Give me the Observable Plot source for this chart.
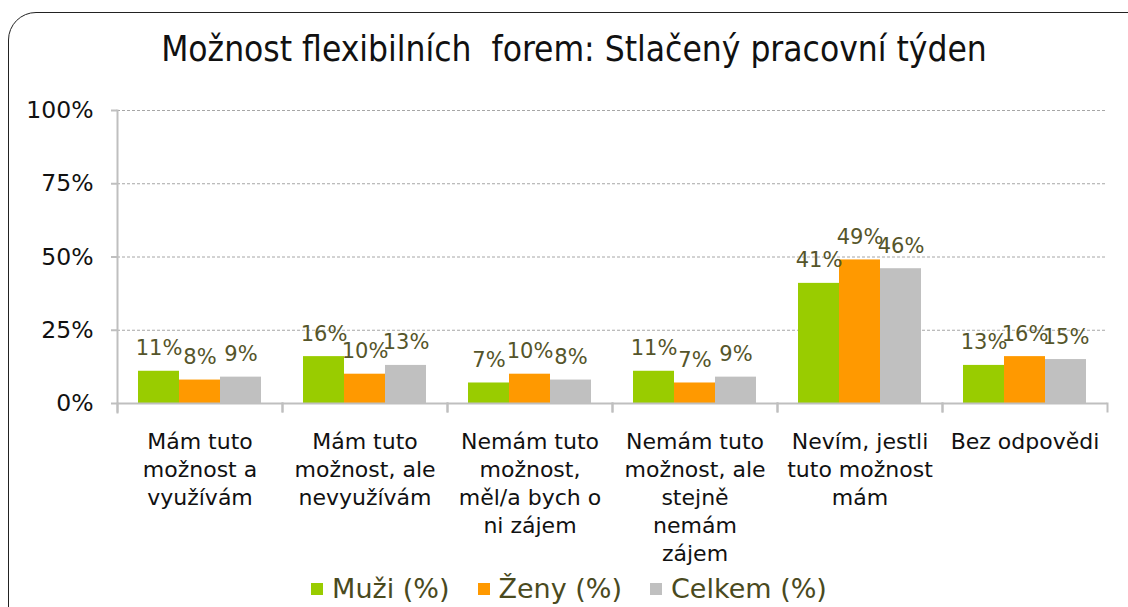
<!DOCTYPE html>
<html><head><meta charset="utf-8">
<script src="https://cdn.jsdelivr.net/npm/d3@7"></script>
<script src="https://cdn.jsdelivr.net/npm/@observablehq/plot@0.6"></script>
<style>
body{margin:0;background:#fff;}
#wrap{position:relative;width:1128px;height:607px;overflow:hidden;font-family:"DejaVu Sans",Verdana,sans-serif;background:#fff;}
#frame{position:absolute;left:8px;top:12px;width:1150px;height:640px;border:1.5px solid #222;border-radius:28px;box-sizing:border-box;}
#title{position:absolute;left:8px;width:1132px;top:29px;text-align:center;font-size:35px;line-height:40px;color:#111;font-family:"DejaVu Sans Condensed","DejaVu Sans",sans-serif;white-space:pre;}
#chart{position:absolute;left:0;top:95px;}
#legend{position:absolute;left:0;width:1138px;top:573px;display:flex;justify-content:center;font-size:27px;line-height:32px;color:#4a4a1e;}
#legend .item{display:flex;align-items:center;margin:0 14px;}
#legend .sw{width:12px;height:12px;margin-right:9px;}
</style>
</head><body>
<div id="wrap">
  <div id="frame"></div>
  <div id="title"></div>
  <div id="chart"></div>
  <div id="legend"></div>
</div>
<script>
const titleText = "Možnost flexibilních  forem: Stlačený pracovní týden";
const categories = [
  "Mám tuto možnost a využívám",
  "Mám tuto možnost, ale nevyužívám",
  "Nemám tuto možnost, měl/a bych o ni zájem",
  "Nemám tuto možnost, ale stejně nemám zájem",
  "Nevím, jestli tuto možnost mám",
  "Bez odpovědi"
];
const categoryLabels = [
  "Mám tuto\nmožnost a\nvyužívám",
  "Mám tuto\nmožnost, ale\nnevyužívám",
  "Nemám tuto\nmožnost,\nměl/a bych o\nni zájem",
  "Nemám tuto\nmožnost, ale\nstejně\nnemám\nzájem",
  "Nevím, jestli\ntuto možnost\nmám",
  "Bez odpovědi"
];
const seriesNames = ["Muži (%)", "Ženy (%)", "Celkem (%)"];
const seriesColors = ["#99cc00", "#ff9900", "#c0c0c0"];
const muzi   = [11, 16, 7, 11, 41, 13];
const zeny   = [8, 10, 10, 7, 49, 16];
const celkem = [9, 13, 8, 9, 46, 15];
const yTicks = [0, 25, 50, 75, 100];

const seriesValues = [muzi, zeny, celkem];
const data = [];
categories.forEach((c, i) => {
  seriesNames.forEach((s, j) => data.push({category: c, series: s, value: seriesValues[j][i]}));
});
const labelOf = new Map(categories.map((c, i) => [c, categoryLabels[i]]));

document.getElementById("title").textContent = titleText;

const plotH = 293;
const chart = Plot.plot({
  width: 1128,
  height: 470,
  marginTop: 15,
  marginLeft: 117,
  marginRight: 21,
  marginBottom: 162,
  style: {fontFamily: "'DejaVu Sans', Verdana, sans-serif", background: "transparent", overflow: "visible"},
  fx: {domain: categories, padding: 0, label: null},
  x: {domain: seriesNames, paddingInner: 0, paddingOuter: 0.5, axis: null},
  y: {domain: [0, 100], label: null},
  color: {domain: seriesNames, range: seriesColors},
  marks: [
    Plot.gridY(yTicks.filter(d => d > 0), {stroke: "#a6a6a6", strokeOpacity: 1, strokeDasharray: "3,2", strokeWidth: 1}),
    Plot.barY(data, {fx: "category", x: "series", y: "value", fill: "series"}),
    Plot.ruleY([0], {stroke: "#bfbfbf", strokeWidth: 2}),
    Plot.frame({anchor: "left", facetAnchor: "left", stroke: "#bfbfbf", strokeWidth: 2, insetBottom: -9}),
    Plot.frame({anchor: "left", stroke: "#bfbfbf", strokeWidth: 2, insetTop: plotH, insetBottom: -8}),
    Plot.frame({anchor: "right", stroke: "#bfbfbf", strokeWidth: 2, insetTop: plotH, insetBottom: -8}),
    Plot.text(data, {fx: "category", x: "series", y: "value", text: d => d.value + "%", dy: -16, lineAnchor: "bottom", fill: "#55552a", fontSize: 21}),
    Plot.axisY({ticks: yTicks, tickFormat: d => d + "%", tickSize: 6, tickPadding: 18, fontSize: 23.5, stroke: "#bfbfbf", strokeWidth: 2, fill: "#111", label: null}),
    Plot.axisFx({anchor: "bottom", tickSize: 0, tickPadding: 26, fontSize: 22, lineHeight: 1.27, fill: "#111", tickFormat: d => labelOf.get(d), label: null})
  ]
});
document.getElementById("chart").appendChild(chart);

const legend = document.getElementById("legend");
seriesNames.forEach((s, j) => {
  const item = document.createElement("div");
  item.className = "item";
  const sw = document.createElement("span");
  sw.className = "sw";
  sw.style.background = seriesColors[j];
  const t = document.createElement("span");
  t.textContent = s;
  item.appendChild(sw); item.appendChild(t);
  legend.appendChild(item);
});
</script>
</body></html>
